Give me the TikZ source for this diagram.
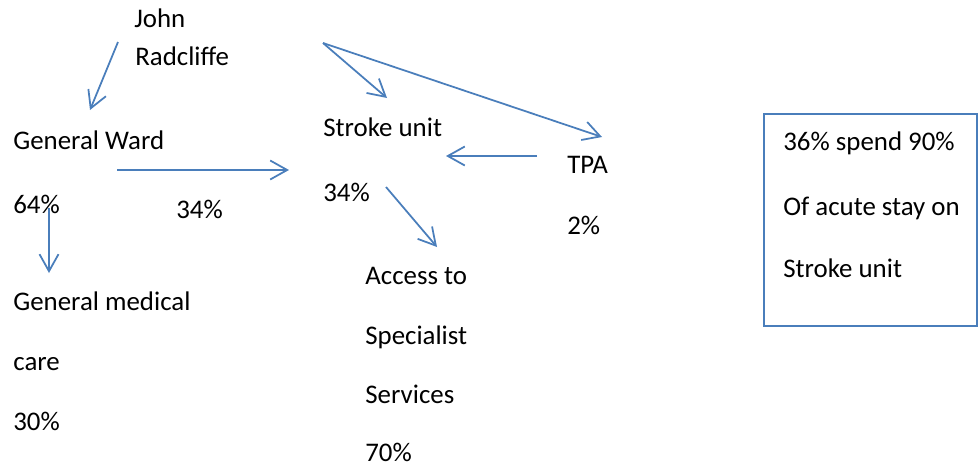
\documentclass[tikz,border=0pt]{standalone}
\usepackage{fontspec}
\setmainfont{Carlito}
\usetikzlibrary{arrows.meta}
\definecolor{arrowblue}{RGB}{74,126,187}
\tikzset{
  flow/.style={draw=arrowblue,line width=1pt,-{Straight Barb[length=3.4mm,width=3.8mm,line width=1pt]}},
  lbl/.style={anchor=base west,inner sep=0pt,font=\fontsize{15.3}{18}\selectfont}
}

\begin{document}
\begin{tikzpicture}[x=0.02cm,y=-0.02cm]
      \useasboundingbox (0,0) rectangle (978,467);
      % labels
      \node[lbl] (john) at (134,27) {John};
      \node[lbl] (radcliffe) at (135,65) {Radcliffe};
      \node[lbl] (ward) at (13,149) {General Ward};
      \node[lbl] (wardpc) at (13,213) {64\%};
      \node[lbl] (movepc) at (176,218) {34\%};
      \node[lbl] (stroke) at (323,136) {Stroke unit};
      \node[lbl] (strokepc) at (323,201) {34\%};
      \node[lbl] (tpa) at (567,173) {TPA};
      \node[lbl] (tpapc) at (567,234) {2\%};
      \node[lbl] (access) at (365,284) {Access to};
      \node[lbl] (spec) at (365,344) {Specialist};
      \node[lbl] (serv) at (365,403) {Services};
      \node[lbl] (accesspc) at (365,461) {70\%};
      \node[lbl] (medical) at (13,310) {General medical};
      \node[lbl] (care) at (13,370) {care};
      \node[lbl] (medicalpc) at (13,430) {30\%};
      % arrow ends
      \coordinate (jr1) at (118,42);
      \coordinate (jr2) at (323,43);
      \coordinate (gwin) at (90,110);
      \coordinate (gwout) at (117,170);
      \coordinate (suin) at (289,170);
      \coordinate (sutop) at (387,98);
      \coordinate (tpain) at (602,137);
      \coordinate (tpaout) at (537,156);
      \coordinate (suright) at (446,156);
      \coordinate (pcout) at (49,208);
      \coordinate (gmin) at (49,273);
      \coordinate (suout) at (386,187);
      \coordinate (acin) at (437,247);
      \draw[flow] (jr1) -- (gwin);
      \draw[flow] (jr2) -- (sutop);
      \draw[flow] (jr2) -- (tpain);
      \draw[flow] (gwout) -- (suin);
      \draw[flow] (pcout) -- (gmin);
      \draw[flow] (tpaout) -- (suright);
      \draw[flow] (suout) -- (acin);
      % note box
      \draw[arrowblue,line width=1pt] (764,114) rectangle (977,326);
      \node[lbl] (note1) at (783,150) {36\% spend 90\%};
      \node[lbl] (note2) at (783,215) {Of acute stay on};
      \node[lbl] (note3) at (783,277) {Stroke unit};
\end{tikzpicture}
\end{document}
